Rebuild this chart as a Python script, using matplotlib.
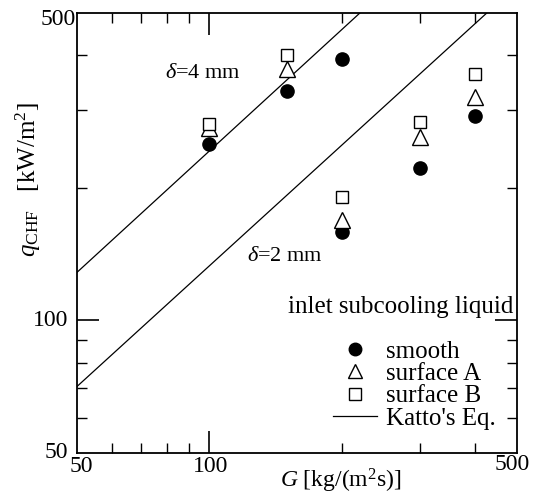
import matplotlib
matplotlib.use("Agg")
import matplotlib.pyplot as plt
from matplotlib.lines import Line2D
from matplotlib.ticker import FixedLocator, NullFormatter

# ---- data ----
G_smooth = [100, 150, 200, 200, 300, 400]
q_smooth = [252, 332, 392, 159, 222, 291]

G_surfA = [100, 150, 200, 300, 400]
q_surfA = [274, 372, 169, 261, 321]

G_surfB = [100, 150, 200, 300, 400]
q_surfB = [279, 401, 191, 282, 363]

# Katto's equation lines (end points on the frame)
katto4_G = [50, 220]
katto4_q = [128.3, 500]
katto2_G = [50, 427]
katto2_q = [70.6, 500]

x_ticklabels = ["50", "100", "500"]
y_ticklabels = ["50", "100", "500"]

plt.rcParams['font.family'] = ['Liberation Serif', 'DejaVu Serif']
plt.rcParams['mathtext.fontset'] = 'custom'
plt.rcParams['mathtext.rm'] = 'Liberation Serif'
plt.rcParams['mathtext.it'] = 'Liberation Serif:italic'
plt.rcParams['mathtext.bf'] = 'Liberation Serif:bold'

W, H = 534, 495
fig = plt.figure(figsize=(W / 100, H / 100), dpi=100)
L, R, T, B = 76.7, 517.3, 12.7, 452.7
ax = fig.add_axes([L / W, (H - B) / H, (R - L) / W, (B - T) / H])
ax.set_xscale('log')
ax.set_yscale('log')
ax.set_xlim(50, 500)
ax.set_ylim(50, 500)

FS_TICK = 17
FS_ANN = 16
FS_BIG = 18

ax.plot(katto4_G, katto4_q, color='black', lw=0.9)
ax.plot(katto2_G, katto2_q, color='black', lw=0.9)
ax.plot(G_smooth, q_smooth, 'o', ms=9.5, mfc='black', mec='black', ls='none')
ax.plot(G_surfA, q_surfA, '^', ms=11, mfc='white', mec='black', mew=1.0, ls='none')
ax.plot(G_surfB, q_surfB, 's', ms=8.4, mfc='white', mec='black', mew=1.0, ls='none')

for s in ax.spines.values():
    s.set_linewidth(1.3)

ax.xaxis.set_major_locator(FixedLocator([100]))
ax.yaxis.set_major_locator(FixedLocator([100]))
ax.xaxis.set_minor_locator(FixedLocator([60, 70, 80, 90, 200, 300, 400]))
ax.yaxis.set_minor_locator(FixedLocator([60, 70, 80, 90, 200, 300, 400]))
ax.xaxis.set_major_formatter(NullFormatter())
ax.yaxis.set_major_formatter(NullFormatter())
ax.xaxis.set_minor_formatter(NullFormatter())
ax.yaxis.set_minor_formatter(NullFormatter())
ax.tick_params(which='major', direction='in', length=16, width=1.2,
               top=True, right=True)
ax.tick_params(which='minor', direction='in', length=7.5, width=1.0,
               top=True, right=True)

px = 0.72
# x tick labels
xt_vals = [50, 100, 500]
xt_off = [(5, -14), (1, -14.3), (-5, -12.3)]
for v, lab, (dx, dy) in zip(xt_vals, x_ticklabels, xt_off):
    ax.annotate(lab, xy=(v, 0), xycoords=('data', 'axes fraction'),
                xytext=(dx * px, dy * px), textcoords='offset points',
                ha='center', va='center', fontsize=FS_TICK, annotation_clip=False)
# y tick labels
yt_vals = [50, 100, 500]
yt_off = [(-8.7, 0), (-8.7, 0), (-1, -6.3)]
for v, lab, (dx, dy) in zip(yt_vals, y_ticklabels, yt_off):
    ax.annotate(lab, xy=(0, v), xycoords=('axes fraction', 'data'),
                xytext=(dx * px, dy * px), textcoords='offset points',
                ha='right', va='center', fontsize=FS_TICK, annotation_clip=False)

def afx(p):
    return (p - L) / (R - L)

def afy(p):
    return (B - p) / (B - T)

ax.text(afx(165), afy(73), r'$\delta$=4 mm', transform=ax.transAxes,
        ha='left', va='center', fontsize=FS_ANN)
ax.text(afx(246.7), afy(256.7), r'$\delta$=2 mm', transform=ax.transAxes,
        ha='left', va='center', fontsize=FS_ANN)
ax.text(afx(513), afy(306.7), 'inlet subcooling liquid', transform=ax.transAxes,
        ha='right', va='center', fontsize=FS_BIG)

handles = [
    Line2D([], [], ls='none', marker='o', ms=9, mfc='black', mec='black'),
    Line2D([], [], ls='none', marker='^', ms=10, mfc='white', mec='black', mew=1.0),
    Line2D([], [], ls='none', marker='s', ms=8, mfc='white', mec='black', mew=1.0),
    Line2D([], [], color='black', lw=0.9),
]
labels = ['smooth', 'surface A', 'surface B', "Katto's Eq."]
leg = ax.legend(handles, labels, loc='upper left', frameon=False,
                bbox_to_anchor=(333 / W, 1 - 340 / H), bbox_transform=fig.transFigure,
                fontsize=FS_BIG, borderpad=0, handlelength=44 / (FS_BIG / 0.72),
                handletextpad=0.36, labelspacing=0.0, borderaxespad=0)

fig.text(28 / W, 1 - 180 / H, r'$q_{\mathrm{CHF}}$   [kW/m$^2$]', rotation=90,
         ha='center', va='center', fontsize=FS_BIG)
fig.text(341 / W, 1 - 481 / H, r'$G$ [kg/(m$^2$s)]', ha='center', va='center',
         fontsize=FS_TICK)

fig.savefig('out.png', dpi=100)
